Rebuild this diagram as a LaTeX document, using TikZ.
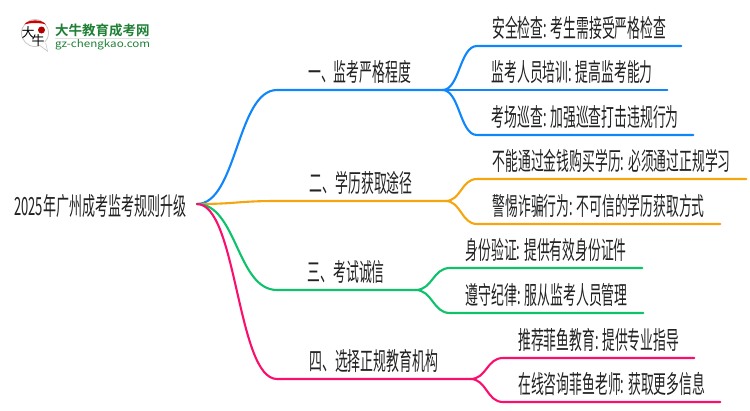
\documentclass[tikz,border=0pt]{standalone}
\usepackage{fontspec}
\usepackage{graphicx}
\usetikzlibrary{calc}
\setmainfont{Noto Sans CJK SC}
\newfontfamily\logofont{Noto Sans CJK SC}[BoldFont={Noto Sans CJK SC Bold}]
\definecolor{cblue}{HTML}{0F86FB}
\definecolor{corange}{HTML}{F5A60F}
\definecolor{cgreen}{HTML}{0DC26B}
\definecolor{cpink}{HTML}{FB0F6E}
\definecolor{ctext}{HTML}{222222}
\definecolor{clogo}{HTML}{1E7F35}
\newsavebox{\fitbox}
\newcommand{\fit}[2]{\sbox{\fitbox}{#2}\pgfmathsetmacro{\fitratio}{#1/(\wd\fitbox/1pt)}\scalebox{\fitratio}[1]{\usebox{\fitbox}}}
\tikzset{
  x=1pt,y=-1pt,
  leaf/.style={anchor=south west,inner sep=0pt,minimum height=35pt,text=ctext,font=\fontsize{25}{25}\selectfont},
  branch/.style={line width=2.1pt,line cap=round},
}
\newcommand{\lvl}[2]{\draw[branch,#1] (start) .. controls ($(start)!0.5!(start -| #2.south west)$) and ($(#2.south west)!0.5!(start |- #2.south west)$) .. (#2.south west) -- (#2.south east);}
\newcommand{\sub}[3]{\draw[branch,#1] (#2.south east) .. controls ($(#2.south east)!0.5!(#2.south east -| #3.south west)$) and ($(#3.south west)!0.5!(#2.south east |- #3.south west)$) .. (#3.south west) -- (#3.south east);}
\begin{document}
\begin{tikzpicture}
\useasboundingbox (0,0) rectangle (750,410);
% logo
\fill[white,draw=black!22,line width=0.8pt] (35,33) circle (13.5);
\fill[black!22] (40,46) -- (48,52) -- (46,43) -- cycle;
\fill[white] (40,45) -- (47,50) -- (45,42) -- cycle;
\fill[red!80!black] (24.5,24.5) .. controls (28,19) and (42,19) .. (46,24.5) .. controls (40,22.5) and (30,22.5) .. (24.5,24.5) -- cycle;
\fill[red!70!black] (41.5,30) circle (3.5);
\node[anchor=center,inner sep=0pt,font=\fontsize{13}{13}\selectfont] (logoa) at (28,33) {大};
\node[anchor=center,inner sep=0pt,font=\fontsize{13}{13}\selectfont] (logob) at (38,41) {牛};
\node[anchor=west,inner sep=0pt,text=clogo,font=\logofont\bfseries\fontsize{13.5}{13.5}\selectfont] (logoc) at (55,30) {大牛教育成考网};
\fill[black!12] (55,38) rectangle (150,39.2);
\node[anchor=west,inner sep=0pt,text=clogo,font=\logofont\fontsize{10}{10}\selectfont] (logod) at (55,45) {\fit{95}{gz-chengkao.com}};
% root
\node[anchor=west,inner sep=0pt,text=ctext,font=\fontsize{25}{25}\selectfont,minimum height=26pt] (root) at (14,206) {\fit{172}{2025年广州成考监考规则升级}};
\coordinate (start) at (197,204);
% level 1
\node[leaf,minimum width=165pt] (a) at (277,90) {\fit{103}{一、监考严格程度}};
\node[leaf,minimum width=168pt] (b) at (277,201) {\fit{103}{二、学历获取途径}};
\node[leaf,minimum width=138pt] (c) at (277,290) {\fit{77}{三、考试诚信}};
\node[leaf,minimum width=193pt] (d) at (277,379) {\fit{129}{四、选择正规教育机构}};
% leaves
\node[leaf,minimum width=204pt] (a1) at (477,46) {\fit{174}{安全检查: 考生需接受严格检查}};
\node[leaf,minimum width=190pt] (a2) at (477,90) {\fit{161}{监考人员培训: 提高监考能力}};
\node[leaf,minimum width=216pt] (a3) at (477,135) {\fit{187}{考场巡查: 加强巡查打击违规行为}};
\node[leaf,minimum width=269pt] (b1) at (477,179) {\fit{238}{不能通过金钱购买学历: 必须通过正规学习}};
\node[leaf,minimum width=243pt] (b2) at (477,224) {\fit{212}{警惕诈骗行为: 不可信的学历获取方式}};
\node[leaf,minimum width=192pt] (c1) at (450,268) {\fit{161}{身份验证: 提供有效身份证件}};
\node[leaf,minimum width=193pt] (c2) at (450,313) {\fit{162}{遵守纪律: 服从监考人员管理}};
\node[leaf,minimum width=191pt] (d1) at (503,358) {\fit{161}{推荐菲鱼教育: 提供专业指导}};
\node[leaf,minimum width=217pt] (d2) at (503,402) {\fit{187}{在线咨询菲鱼老师: 获取更多信息}};
% connectors
\sub{cblue}{a}{a1}
\sub{cblue}{a}{a2}
\sub{cblue}{a}{a3}
\sub{corange}{b}{b1}
\sub{corange}{b}{b2}
\sub{cgreen}{c}{c1}
\sub{cgreen}{c}{c2}
\sub{cpink}{d}{d1}
\sub{cpink}{d}{d2}
\lvl{cblue}{a}
\lvl{corange}{b}
\lvl{cgreen}{c}
\lvl{cpink}{d}
\end{tikzpicture}
\end{document}
